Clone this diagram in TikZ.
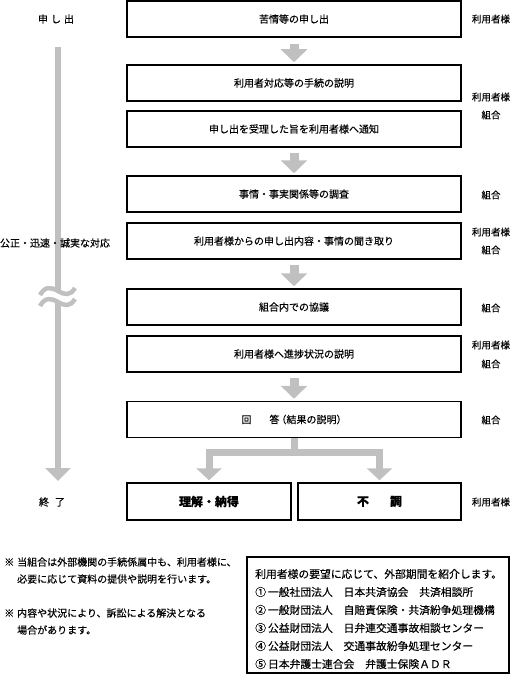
\documentclass[tikz,border=0pt]{standalone}
\usepackage{fontspec}
\setmainfont{Noto Sans CJK JP}[FakeBold=0.25]
\usetikzlibrary{arrows.meta}
\definecolor{gry}{RGB}{192,192,192}
\begin{document}
\begin{tikzpicture}[x=1pt,y=-1pt,
  stepbox/.style={draw,line width=1.5pt,minimum width=334pt,minimum height=36pt,inner sep=0pt,font=\fontsize{10}{12}\selectfont},
  endbox/.style={draw,line width=1.5pt,minimum height=37pt,inner sep=0pt,font=\fontsize{12}{14}\selectfont\bfseries},
  garrow/.style={draw=gry,line width=9pt,-{Triangle[width=26pt,length=13pt]}},
  barrow/.style={draw=gry,line width=7pt,-{Triangle[width=25pt,length=12pt]}},
  lbl/.style={font=\fontsize{9.5}{11}\selectfont,inner sep=0pt},
  side/.style={font=\fontsize{10}{12}\selectfont,inner sep=0pt},
  note/.style={font=\fontsize{10}{12}\selectfont,inner sep=0pt,anchor=west},
  item/.style={font=\fontsize{10.8}{12}\selectfont,inner sep=0pt,anchor=west},
  wave/.style={draw=gry,line width=4.5pt}
]
\useasboundingbox (0,0) rectangle (511,677);

% main steps
\node[stepbox] (b1) at (294,19) {苦情等の申し出};
\node[stepbox] (b2) at (294,83) {利用者対応等の手続の説明};
\node[stepbox] (b3) at (294,129) {申し出を受理した旨を利用者様へ通知};
\node[stepbox] (b4) at (294,194) {事情・事実関係等の調査};
\node[stepbox] (b5) at (294,241) {利用者様からの申し出内容・事情の聞き取り};
\node[stepbox] (b6) at (294,307) {組合内での協議};
\node[stepbox] (b7) at (294,354) {利用者様へ進捗状況の説明};
\node[stepbox] (b8) at (294,419.5) {回\hspace{1.8em}答\hspace{-0.3em}（結果の説明）};
\node[endbox,minimum width=164pt] (f1) at (209,501.5) {理解・納得};
\node[endbox,minimum width=163pt] (f2) at (379.5,501.5) {不\hspace{21pt}調};

% arrows
\draw[garrow] ([yshift=-6pt]b1.south) -- ([yshift=2pt]b2.north);
\draw[garrow] ([yshift=-5pt]b3.south) -- ([yshift=2pt]b4.north);
\draw[garrow] ([yshift=-5pt]b5.south) -- ([yshift=2pt]b6.north);
\draw[garrow] ([yshift=-5pt]b7.south) -- ([yshift=2pt]b8.north);
\coordinate (split) at (294,452.5);
\draw[barrow] (b8.south) -- (split) -| ([yshift=2pt]f1.north);
\draw[barrow] (b8.south) -- (split) -| ([yshift=2pt]f2.north);

% left timeline
\coordinate (tlTop) at (58,47);
\coordinate (tlW1) at (58,291);
\coordinate (tlW2) at (58,302);
\coordinate (tlEnd) at (58,481);
\draw[draw=gry,line width=6pt] (tlTop) -- (tlW1);
\draw[wave] (40,295) .. controls (45,286) and (51,287) .. (tlW1) .. controls (65,295) and (70,296) .. (75,288);
\draw[wave] (40,306) .. controls (45,297) and (51,298) .. (tlW2) .. controls (65,306) and (70,307) .. (75,299);
\draw[draw=gry,line width=6pt,-{Triangle[width=25pt,length=13pt]}] (tlW2) -- (tlEnd);

% left labels
\node[side] (lstart) at (56,19) {申\hspace{3pt}し\hspace{3pt}出};
\node[side] (lmid) at (55,243) {公正・迅速・誠実な対応};
\node[side] (lend) at (52,502) {終\hspace{6pt}了};

% right labels
\node[lbl] (r1) at (491,19) {利用者様};
\node[lbl] (r2a) at (491,97) {利用者様};
\node[lbl] (r2b) at (491,115) {組合};
\node[lbl] (r3) at (491,195) {組合};
\node[lbl] (r4a) at (491,232) {利用者様};
\node[lbl] (r4b) at (491,250) {組合};
\node[lbl] (r5) at (491,308) {組合};
\node[lbl] (r6a) at (491,345) {利用者様};
\node[lbl] (r6b) at (491,364) {組合};
\node[lbl] (r7) at (491,420) {組合};
\node[lbl] (r8) at (491,502) {利用者様};

% notes
\node[note] (n1) at (4,562) {※\hspace{3pt}当組合は外部機関の手続係属中も、利用者様に、};
\node[note] (n2) at (17,579) {必要に応じて資料の提供や説明を行います。};
\node[note] (n3) at (4,613) {※\hspace{3pt}内容や状況により、訴訟による解決となる};
\node[note] (n4) at (17,630) {場合があります。};

% external bodies box
\draw[line width=2pt] (247,557) rectangle (509,673);
\node[item] (l1) at (255,574) {利用者様の要望に応じて、外部期間を紹介します。};
\node[item] (l2) at (255,592) {①\hspace{2pt}一般社団法人　日本共済協会　共済相談所};
\node[item] (l3) at (255,610) {②\hspace{2pt}一般財団法人　自賠責保険・共済紛争処理機構};
\node[item] (l4) at (255,628) {③\hspace{2pt}公益財団法人　日弁連交通事故相談センター};
\node[item] (l5) at (255,646) {④\hspace{2pt}公益財団法人　交通事故紛争処理センター};
\node[item] (l6) at (255,664) {⑤\hspace{2pt}日本弁護士連合会　弁護士保険ＡＤＲ};
\end{tikzpicture}
\end{document}
